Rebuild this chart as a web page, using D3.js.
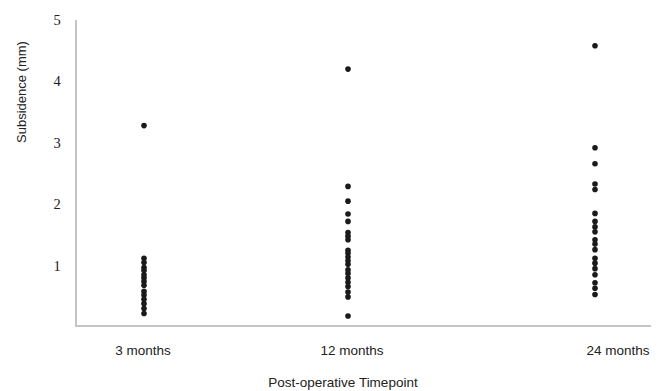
<!DOCTYPE html>
<html lang="en">
<head>
    <meta charset="UTF-8">
    <title>Subsidence</title>
    <script src="https://d3js.org/d3.v7.min.js"></script>
    <style>
        body { margin: 0; background: #fff; }
    </style>
</head>
<body>
<div id="chart"></div>
<script>
    // data
    var timepoints = ["3 months", "12 months", "24 months"];
    var m3 = [3.28, 1.12, 1.05, 0.97, 0.92, 0.85, 0.80, 0.74, 0.68, 0.58, 0.52, 0.45, 0.38, 0.30, 0.22];
    var m12 = [4.2, 2.29, 2.05, 1.84, 1.72, 1.54, 1.48, 1.42, 1.25, 1.2, 1.14, 1.08, 1.02, 0.93, 0.87, 0.80, 0.73, 0.66, 0.57, 0.49, 0.18];
    var m24 = [4.58, 2.92, 2.66, 2.33, 2.24, 1.85, 1.72, 1.63, 1.55, 1.42, 1.35, 1.26, 1.12, 1.04, 0.95, 0.85, 0.72, 0.63, 0.53];
    var yTicks = [1, 2, 3, 4, 5];

    var series = [m3, m12, m24];
    var points = [];
    series.forEach(function (vals, i) {
        vals.forEach(function (v) { points.push({t: timepoints[i], v: v}); });
    });

    var width = 657, height = 391;
    var svg = d3.select("#chart").append("svg")
        .attr("width", width).attr("height", height);

    var x = d3.scaleOrdinal().domain(timepoints).range([144, 348, 595]);
    var xLabel = d3.scaleOrdinal().domain(timepoints).range([143, 352, 618]);
    var y = d3.scaleLinear().domain([0, 5]).range([327, 20]);

    // axis lines
    svg.append("line")
        .attr("x1", 76).attr("x2", 76)
        .attr("y1", y(5)).attr("y2", y(0))
        .attr("stroke", "#c4c4c4").attr("stroke-width", 2);
    svg.append("line")
        .attr("x1", 75).attr("x2", 651)
        .attr("y1", y(0) - 1).attr("y2", y(0) - 1)
        .attr("stroke", "#c4c4c4").attr("stroke-width", 2);

    // y tick labels
    svg.selectAll(".ytick").data(yTicks).enter().append("text")
        .attr("class", "ytick")
        .attr("x", 57)
        .attr("y", function (d) { return y(d) + 5; })
        .attr("text-anchor", "middle")
        .attr("font-family", "'Liberation Serif', 'Times New Roman', serif")
        .attr("font-size", 14.5)
        .attr("fill", "#222")
        .text(function (d) { return d; });

    // x labels
    svg.selectAll(".xtick").data(timepoints).enter().append("text")
        .attr("class", "xtick")
        .attr("x", function (d) { return xLabel(d); })
        .attr("y", 355)
        .attr("text-anchor", "middle")
        .attr("font-family", "'Liberation Sans', Arial, sans-serif")
        .attr("font-size", 13.5)
        .attr("fill", "#222")
        .text(function (d) { return d; });

    svg.append("text")
        .attr("x", 343).attr("y", 387)
        .attr("text-anchor", "middle")
        .attr("font-family", "'Liberation Sans', Arial, sans-serif")
        .attr("font-size", 13.5)
        .attr("fill", "#222")
        .text("Post-operative Timepoint");

    svg.append("text")
        .attr("transform", "translate(26,92) rotate(-90)")
        .attr("text-anchor", "middle")
        .attr("font-family", "'Liberation Sans', Arial, sans-serif")
        .attr("font-size", 13)
        .attr("fill", "#222")
        .text("Subsidence (mm)");

    // dots
    svg.selectAll(".dot").data(points).enter().append("circle")
        .attr("class", "dot")
        .attr("cx", function (d) { return x(d.t); })
        .attr("cy", function (d) { return y(d.v); })
        .attr("r", 2.8)
        .attr("fill", "#1a1a1a");
</script>
</body>
</html>
